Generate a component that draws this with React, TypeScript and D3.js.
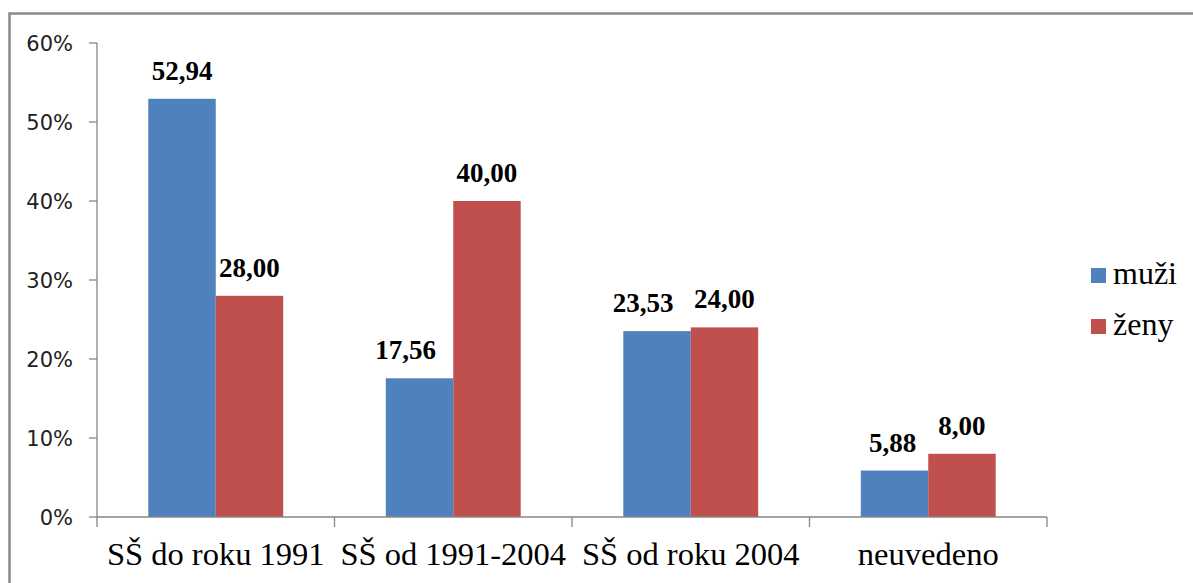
import React from "react";
import * as d3 from "d3";

const categories = ["SŠ do roku 1991", "SŠ od 1991-2004", "SŠ od roku 2004", "neuvedeno"];
const seriesNames = ["muži", "ženy"];
const muzi = [52.94, 17.56, 23.53, 5.88];
const zeny = [28.0, 40.0, 24.0, 8.0];
const yTicks = [0, 10, 20, 30, 40, 50, 60];
const colors = ["#4F81BD", "#C0504D"];

const W = 1193;
const H = 583;
const margin = { left: 97, right: 146, top: 43, bottom: 66 };
// horizontal nudges Excel applied to some muži labels
const labelNudge = [[0, 0], [-14, 0], [-14, 0], [-2, 0]];

export default function App() {
  const x0 = d3
    .scaleBand<string>()
    .domain(categories)
    .range([margin.left, W - margin.right])
    .paddingInner(0)
    .paddingOuter(0);
  const step = x0.bandwidth();
  const x1 = d3
    .scaleBand<string>()
    .domain(seriesNames)
    .range([step * 0.216, step * 0.784])
    .padding(0);
  const y = d3.scaleLinear().domain([0, 60]).range([H - margin.bottom, margin.top]);
  const series = [muzi, zeny];
  const axisColor = "#868686";
  const y0 = y(0);

  return (
    <svg
      width={W}
      height={H}
      style={{ position: "absolute", left: 0, top: 0, background: "#fff" }}
    >
      <rect x={9.5} y={13.5} width={1400} height={800} fill="#fff" stroke="#8a8a8a" strokeWidth={2.5} />
      {/* bars */}
      {categories.map((c, ci) =>
        series.map((s, si) => {
          const bx = (x0(c) as number) + (x1(seriesNames[si]) as number);
          const bw = x1.bandwidth();
          return (
            <rect
              key={c + si}
              x={bx}
              y={y(s[ci])}
              width={bw}
              height={y0 - y(s[ci])}
              fill={colors[si]}
            />
          );
        })
      )}
      {/* value labels */}
      {categories.map((c, ci) =>
        series.map((s, si) => {
          const bx = (x0(c) as number) + (x1(seriesNames[si]) as number) + x1.bandwidth() / 2;
          return (
            <text
              key={"l" + c + si}
              x={bx + labelNudge[ci][si]}
              y={y(s[ci]) - 19}
              textAnchor="middle"
              fontFamily="'Liberation Serif', 'Times New Roman', serif"
              fontWeight="bold"
              fontSize={27}
              fill="#000"
            >
              {d3.format(".2f")(s[ci]).replace(".", ",")}
            </text>
          );
        })
      )}
      {/* y axis */}
      <line x1={margin.left} x2={margin.left} y1={y(60)} y2={y0} stroke={axisColor} strokeWidth={1.3} />
      {yTicks.map((t) => (
        <g key={"yt" + t}>
          <line x1={margin.left - 8} x2={margin.left} y1={y(t)} y2={y(t)} stroke={axisColor} strokeWidth={1.3} />
          <text
            x={73}
            y={y(t)}
            dy="0.36em"
            textAnchor="end"
            fontFamily="'DejaVu Sans', Verdana, sans-serif"
            fontSize={21}
            fill="#222"
          >
            {t + "%"}
          </text>
        </g>
      ))}
      {/* x axis */}
      <line x1={margin.left} x2={W - margin.right} y1={y0} y2={y0} stroke={axisColor} strokeWidth={1.3} />
      {[...categories.map((c) => x0(c) as number), W - margin.right].map((xv, i) => (
        <line key={"xt" + i} x1={xv} x2={xv} y1={y0} y2={y0 + 10} stroke={axisColor} strokeWidth={1.3} />
      ))}
      {categories.map((c) => (
        <text
          key={"xl" + c}
          x={(x0(c) as number) + step / 2}
          y={565}
          textAnchor="middle"
          fontFamily="'Liberation Serif', 'Times New Roman', serif"
          fontSize={32.5}
          fill="#000"
        >
          {c}
        </text>
      ))}
      {/* legend */}
      {seriesNames.map((n, i) => (
        <g key={"lg" + n} transform={`translate(1091, ${268 + i * 51})`}>
          <rect x={0} y={0} width={15} height={15} fill={colors[i]} />
          <text
            x={22}
            y={16}
            fontFamily="'Liberation Serif', 'Times New Roman', serif"
            fontSize={32}
            fill="#000"
          >
            {n}
          </text>
        </g>
      ))}
    </svg>
  );
}
